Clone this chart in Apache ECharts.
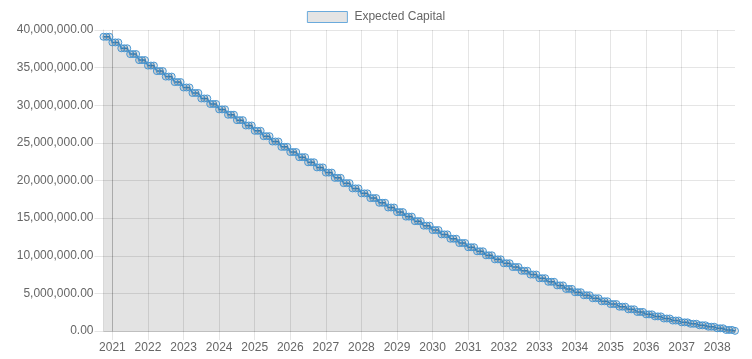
<!DOCTYPE html>
<html>
<head>
<meta charset="utf-8">
<script src="https://cdn.jsdelivr.net/npm/echarts@6/dist/echarts.min.js"></script>
<style>
html,body{margin:0;padding:0;background:#fff;}
#chart{width:752px;height:359px;}
</style>
</head>
<body>
<div id="chart"></div>
<script>
// Monthly series, first point October 2020, last point July 2038
const seriesName = 'Expected Capital';
const firstYear = 2020;
const firstMonthIndex = 9; // October
const capitalMillions = [
  39.10,39.10,39.10,                                                 // 2020 Oct-Dec
  38.35,38.35,38.35, 37.57,37.57,37.57, 36.80,36.80,36.80, 36.00,36.00,36.00, // 2021
  35.27,35.27,35.27, 34.54,34.54,34.54, 33.81,33.81,33.81, 33.08,33.08,33.08, // 2022
  32.36,32.36,32.36, 31.63,31.63,31.63, 30.90,30.90,30.90, 30.17,30.17,30.17, // 2023
  29.45,29.45,29.45, 28.74,28.74,28.74, 28.02,28.02,28.02, 27.31,27.31,27.31, // 2024
  26.60,26.60,26.60, 25.89,25.89,25.89, 25.18,25.18,25.18, 24.47,24.47,24.47, // 2025
  23.78,23.78,23.78, 23.10,23.10,23.10, 22.42,22.42,22.42, 21.74,21.74,21.74, // 2026
  21.05,21.05,21.05, 20.35,20.35,20.35, 19.65,19.65,19.65, 18.95,18.95,18.95, // 2027
  18.29,18.29,18.29, 17.66,17.66,17.66, 17.04,17.04,17.04, 16.41,16.41,16.41, // 2028
  15.80,15.80,15.80, 15.20,15.20,15.20, 14.60,14.60,14.60, 14.00,14.00,14.00, // 2029
  13.41,13.41,13.41, 12.84,12.84,12.84, 12.26,12.26,12.26, 11.69,11.69,11.69, // 2030
  11.13,11.13,11.13, 10.59,10.59,10.59, 10.06,10.06,10.06,  9.52, 9.52, 9.52, // 2031
   9.00, 9.00, 9.00,  8.50, 8.50, 8.50,  8.00, 8.00, 8.00,  7.50, 7.50, 7.50, // 2032
   7.01, 7.01, 7.01,  6.54, 6.54, 6.54,  6.06, 6.06, 6.06,  5.59, 5.59, 5.59, // 2033
   5.15, 5.15, 5.15,  4.75, 4.75, 4.75,  4.35, 4.35, 4.35,  3.95, 3.95, 3.95, // 2034
   3.58, 3.58, 3.58,  3.23, 3.23, 3.23,  2.88, 2.88, 2.88,  2.53, 2.53, 2.53, // 2035
   2.21, 2.21, 2.21,  1.94, 1.94, 1.94,  1.66, 1.66, 1.66,  1.39, 1.39, 1.39, // 2036
   1.15, 1.15, 1.15,  0.96, 0.96, 0.96,  0.76, 0.76, 0.76,  0.57, 0.57, 0.57, // 2037
   0.36, 0.36, 0.36,  0.14, 0.14, 0.14,  0.02                                  // 2038 Jan-Jul
];
const tickYears = [2021,2022,2023,2024,2025,2026,2027,2028,2029,2030,2031,2032,2033,2034,2035,2036,2037,2038];
const yTicks = [0,5000000,10000000,15000000,20000000,25000000,30000000,35000000,40000000];

const blue = '#4797d4';
const gridLight = 'rgba(0,0,0,0.1)';
const gridDark = 'rgba(0,0,0,0.25)';
const font = '"Liberation Sans", Arial, Helvetica, sans-serif';

const seriesData = capitalMillions.map((v, i) => [firstYear + (firstMonthIndex + i) / 12, v * 1e6]);

const xLineColors = tickYears.map((y, i) => i === 0 ? gridDark : gridLight);
const yLineColors = yTicks.map((y, i) => i === 0 ? gridDark : gridLight);

const chart = echarts.init(document.getElementById('chart'), null, {renderer: 'canvas'});
chart.setOption({
  animation: false,
  backgroundColor: '#fff',
  textStyle: {fontFamily: font},
  legend: {
    top: 6,
    left: 'center',
    itemWidth: 40,
    itemHeight: 11,
    itemGap: 10,
    data: [{
      name: seriesName,
      icon: 'rect',
      itemStyle: {color: '#e4e4e4', borderColor: '#6aaadc', borderWidth: 1}
    }],
    textStyle: {color: '#666', fontSize: 12, fontFamily: font, padding: [0, 0, 0, 2]}
  },
  grid: {left: 103.5, right: 17, top: 30, bottom: 28, containLabel: false},
  xAxis: {
    type: 'value',
    min: 'dataMin',
    max: 'dataMax',
    axisLine: {show: false},
    axisTick: {show: true, length: 9, customValues: tickYears, lineStyle: {color: gridLight}},
    axisLabel: {customValues: tickYears, color: '#666', fontSize: 12, fontFamily: font, margin: 11,
      formatter: v => String(Math.round(v))},
    splitLine: {show: true, lineStyle: {color: xLineColors, width: 1}}
  },
  yAxis: {
    type: 'value',
    min: 0,
    max: 40000000,
    interval: 5000000,
    axisLine: {show: true, lineStyle: {color: gridLight}},
    axisTick: {show: true, length: 9, lineStyle: {color: gridLight}},
    axisLabel: {color: '#666', fontSize: 12, fontFamily: font, margin: 10,
      formatter: v => v.toLocaleString('en-US', {minimumFractionDigits: 2, maximumFractionDigits: 2})},
    splitLine: {show: true, lineStyle: {color: yLineColors, width: 1}}
  },
  series: [{
    name: seriesName,
    type: 'line',
    data: seriesData,
    symbol: 'circle',
    symbolSize: 7,
    showAllSymbol: true,
    clip: false,
    lineStyle: {color: blue, width: 1.5},
    itemStyle: {color: 'rgba(0,0,0,0.1)', borderColor: blue, borderWidth: 1},
    areaStyle: {color: 'rgba(0,0,0,0.11)', opacity: 1, origin: 'start'}
  }]
});
</script>
</body>
</html>
